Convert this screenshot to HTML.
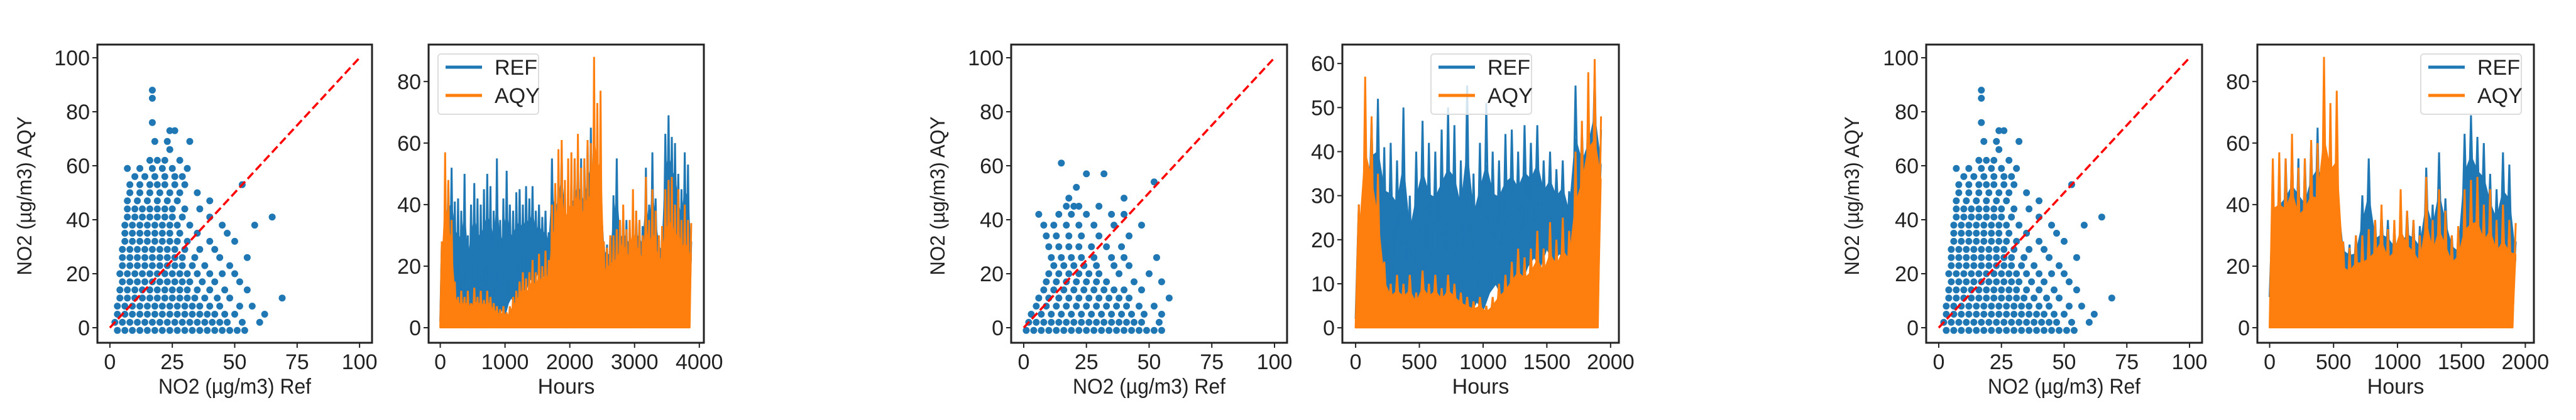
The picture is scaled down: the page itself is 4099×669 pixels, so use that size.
<!DOCTYPE html>
<html><head><meta charset="utf-8"><style>
html,body{margin:0;padding:0;background:#fff;}
svg{display:block;font-family:"Liberation Sans","DejaVu Sans",sans-serif;}
</style></head><body>
<svg id="chart" width="4099" height="669" viewBox="0 0 4099 669" xmlns="http://www.w3.org/2000/svg"></svg>
<script>
// scatter data (rows: y value with list of x values) — panel 1 & 3
const scatterAY = [-1,2,5,8,11,14,17,20,23,26,29,32,35,38,41,44,47,50,53,56,59,62,66,69,73,76,85,88];
const scatterAX = [
[3,6,9,12,15,18,21,24,27,30,33,36,39,42,45,48,51,54],
[2,5,8,11,14,17,20,23,26,29,32,35,38,41,44,47,53,60],
[3,6,9,12,15,18,21,24,27,30,33,36,39,42,46,50,62],
[3,6,9,12,15,18,21,24,27,30,33,36,40,44,52,57],
[4,7,10,13,16,19,22,25,28,31,34,38,43,48,69],
[4,7,10,13,16,19,22,25,28,31,35,40,46,55],
[5,8,11,14,17,20,23,26,29,32,37,42,52],
[4,7,10,13,16,19,22,25,28,31,35,40,45,50],
[5,8,11,14,17,20,23,26,29,33,38,48],
[5,8,11,14,17,20,23,26,29,34,44,55],
[5,8,11,14,17,20,23,26,30,36,42],
[6,9,12,15,18,21,24,27,31,40,50],
[6,9,12,15,18,21,24,28,35,47],
[6,9,12,15,18,21,24,27,32,45,58],
[7,10,13,16,19,22,25,29,40,65],
[7,10,13,16,19,22,25,30,36],
[7,11,15,19,23,27,40],
[8,12,16,20,24,28,35],
[8,12,16,19,22,26,30,53],
[10,14,18,22,26,29],
[7,12,17,21,25,31],
[16,19,22,28],
[24],[18,23,32],[24,26],[17],[17],[17]];
// scatter data panel 2
const scatterBY = [-1,2,5,8,11,14,17,20,23,26,30,34,38,42,45,48,52,54,57,61];
const scatterBX = [
[1,4,7,10,13,16,19,22,25,28,31,34,37,40,43,46,49,52,55],
[2,5,8,11,14,17,20,23,26,29,32,35,38,41,44,47,54],
[3,7,11,15,19,23,27,31,35,39,43,48,55],
[5,9,13,17,21,25,29,33,37,41,46,52],
[6,10,14,18,22,26,30,34,38,42,58],
[8,12,16,20,24,28,32,36,40,47],
[9,13,17,21,25,29,33,44,55],
[10,14,18,22,26,30,38,50],
[12,16,20,24,29,36,42],
[11,15,19,23,28,35,40,53],
[10,14,18,22,27,33,39],
[9,13,18,23,30,42],
[8,12,17,22,28,36,47],
[6,14,19,25,35,40],
[17,20,22,30],[18,40],[21],[52],[25,32],[15]];
// time series, one value every 25 hours (hours 0..3875), alternating low/high
const refSeries = [2,28,5,40,20,47,12,52,8,41,3,42,5,38,6,50,2,30,4,40,8,47,3,42,5,40,4,45,3,50,6,46,2,38,5,55,3,35,6,42,4,51,8,40,10,38,7,44,9,45,12,40,10,46,14,42,16,46,14,38,18,40,15,36,17,38,14,31,15,55,20,45,22,50,25,58,18,45,
10,40,15,50,12,55,18,58,15,55,5,55,20,60,20,65,10,62,20,58,20,55,18,28,15,27,10,30,12,43,15,55,14,35,12,38,15,35,10,33,14,32,12,38,15,35,10,33,12,52,15,40,12,57,15,42,18,30,12,30,20,63,25,69,25,62,22,60,18,50,12,45,15,57,15,53,10,28];
const aqySeries = [0,28,0,57,0,48,0,35,0,15,0,10,0,12,0,10,0,12,0,8,0,13,0,10,0,12,0,9,0,12,0,10,0,8,0,7,0,6,0,7,0,5,0,7,0,10,0,12,0,15,0,18,0,16,0,18,0,22,0,18,0,24,0,20,0,25,0,22,0,40,0,47,0,58,0,61,0,48,
0,55,0,57,0,55,0,63,0,52,0,55,0,61,0,60,0,88,0,73,0,77,0,28,0,26,0,30,0,30,0,32,0,35,0,40,0,32,0,35,0,45,0,38,0,35,0,30,0,49,0,35,0,45,0,38,0,30,0,33,0,45,0,48,0,49,0,40,0,45,0,35,0,40,0,35,0,34];
const hourStep = 25;
const scatterXTicks = [0,25,50,75,100];
const scatterYTicks = [0,20,40,60,80,100];
const lineYTicksA = [0,20,40,60,80];
const lineYTicksB = [0,10,20,30,40,50,60];
const hourTicksFull = [0,1000,2000,3000,4000];
const hourTicksHalf = [0,500,1000,1500,2000];

const NS = "http://www.w3.org/2000/svg";
const svg = document.getElementById('chart');
function mk(tag, attrs, parent){const e=document.createElementNS(NS,tag);for(const k in attrs)e.setAttribute(k,attrs[k]);(parent||svg).appendChild(e);return e;}
function lin(d0,d1,r0,r1){return v=>r0+(v-d0)*(r1-r0)/(d1-d0);}
const TOP=71,BOT=546,FS=34;

function axesFrame(g,x0,x1,sx,sy,xticks,yticks,xlabel,ylabel,ylabelX){
  const box=mk('rect',{x:x0,y:TOP,width:x1-x0,height:BOT-TOP,fill:'none',stroke:'#222','stroke-width':3},g);
  
  
  xticks.forEach(t=>{const x=sx(t);
    const tk=mk('line',{x1:x,x2:x,y1:BOT,y2:BOT+8,stroke:'#222','stroke-width':2},g);
    
    
    const tl=mk('text',{x:x,y:BOT+42,'font-size':FS,'text-anchor':'middle',fill:'#222'},g);
    
    
    tl.textContent=t;});
  yticks.forEach(t=>{const y=sy(t);
    const tk=mk('line',{x1:x0-8,x2:x0,y1:y,y2:y,stroke:'#222','stroke-width':2},g);
    
    
    const tl=mk('text',{x:x0-12,y:y+12,'font-size':FS,'text-anchor':'end',fill:'#222'},g);
    
    
    tl.textContent=t;});
  const xl=mk('text',{x:(x0+x1)/2,y:627,'font-size':FS,'text-anchor':'middle',fill:'#222'},g);
  
  
  xl.textContent=xlabel;
  if(xlabel!=='Hours'){xl.setAttribute('textLength',243);xl.setAttribute('lengthAdjust','spacingAndGlyphs');}
  if(ylabel){
    const yl=mk('text',{x:0,y:0,'font-size':32,'text-anchor':'middle',fill:'#222',transform:`translate(${ylabelX},312) rotate(-90)`,textLength:253,lengthAdjust:'spacingAndGlyphs'},g);
    
    
    yl.textContent=ylabel;
  }
}

function scatterPanel(name,x0,x1,ys,xs,ylabX){
  const g=mk('g',{});
  
  
  const sx=lin(-5,105,x0,x1), sy=lin(0,100,522,92);
  ys.forEach((yv,i)=>xs[i].forEach(xv=>{
    const c=mk('circle',{cx:sx(xv),cy:sy(yv),r:5.5,fill:'#1f77b4'},g);
    
    
  }));
  const d=mk('line',{x1:sx(0),y1:sy(0),x2:sx(100),y2:sy(100),stroke:'#ff0000','stroke-width':3.5,'stroke-dasharray':'13,6'},g);
  
  
  axesFrame(g,x0,x1,sx,sy,scatterXTicks,scatterYTicks,'NO2 (µg/m3) Ref','NO2 (µg/m3) AQY',ylabX);
}

function linePanel(name,x0,x1,h0,h1,startIdx,endIdx,hourOffset,ymin,ymax,yticks,xticks,legX){
  const g=mk('g',{});
  
  
  const sx=lin(h0,h1,x0,x1), sy=lin(ymin,ymax,BOT,TOP);
  [[refSeries,'#1f77b4','ref-series'],[aqySeries,'#ff7f0e','aqy-series']].forEach(([arr,col,nm])=>{
    let pts=[],top=[],lo=[];
    for(let i=startIdx;i<endIdx&&i<arr.length;i++){
      const x=sx(i*hourStep-hourOffset).toFixed(1);
      pts.push(x+','+sy(arr[i]).toFixed(1));
      if((i-startIdx)%2){
        const l=arr[i-1];
        top.push(x+','+sy(l+0.7*(arr[i]-l)).toFixed(1));
      } else lo.push(x+','+sy(arr[i]).toFixed(1));
    }
    const a=mk('polygon',{points:top.concat(lo.reverse()).join(' '),fill:col,stroke:col,'stroke-width':2},g);
    
    
    const p=mk('polyline',{points:pts.join(' '),fill:'none',stroke:col,'stroke-width':3,'stroke-linejoin':'miter'},g);
    
    
  });
  axesFrame(g,x0,x1,sx,sy,xticks,yticks,'Hours',null,0);
  const lg=mk('g',{},g);
  
  
  mk('rect',{x:legX,y:86,width:160,height:96,rx:5,fill:'#fff','fill-opacity':0.8,stroke:'#ddd','stroke-width':2},lg);
  [['REF','#1f77b4',107],['AQY','#ff7f0e',152]].forEach(([t,c,y])=>{
    const ln=mk('line',{x1:legX+12,x2:legX+70,y1:y,y2:y,stroke:c,'stroke-width':5},lg);
    
    
    const tx=mk('text',{x:legX+90,y:y+12,'font-size':FS,fill:'#222'},lg);
    
    
    tx.textContent=t;
  });
}

const N=refSeries.length, HALF=78;
scatterPanel('scatter-panel-1',155,592,scatterAY,scatterAX,50);
linePanel('timeseries-panel-1',682,1120,-180,4070,0,N,0,-4.9,92,lineYTicksA,hourTicksFull,697);
scatterPanel('scatter-panel-2',1609,2048,scatterBY,scatterBX,1503);
linePanel('timeseries-panel-2',2136,2576,-104,2065,0,HALF,0,-3.4,64.3,lineYTicksB,hourTicksHalf,2277);
scatterPanel('scatter-panel-3',3065,3504,scatterAY,scatterAX,2958);
linePanel('timeseries-panel-3',3592,4032,-96,2067,HALF,N,HALF*hourStep,-4.9,92,lineYTicksA,hourTicksHalf,3852);
</script>
</body></html>
